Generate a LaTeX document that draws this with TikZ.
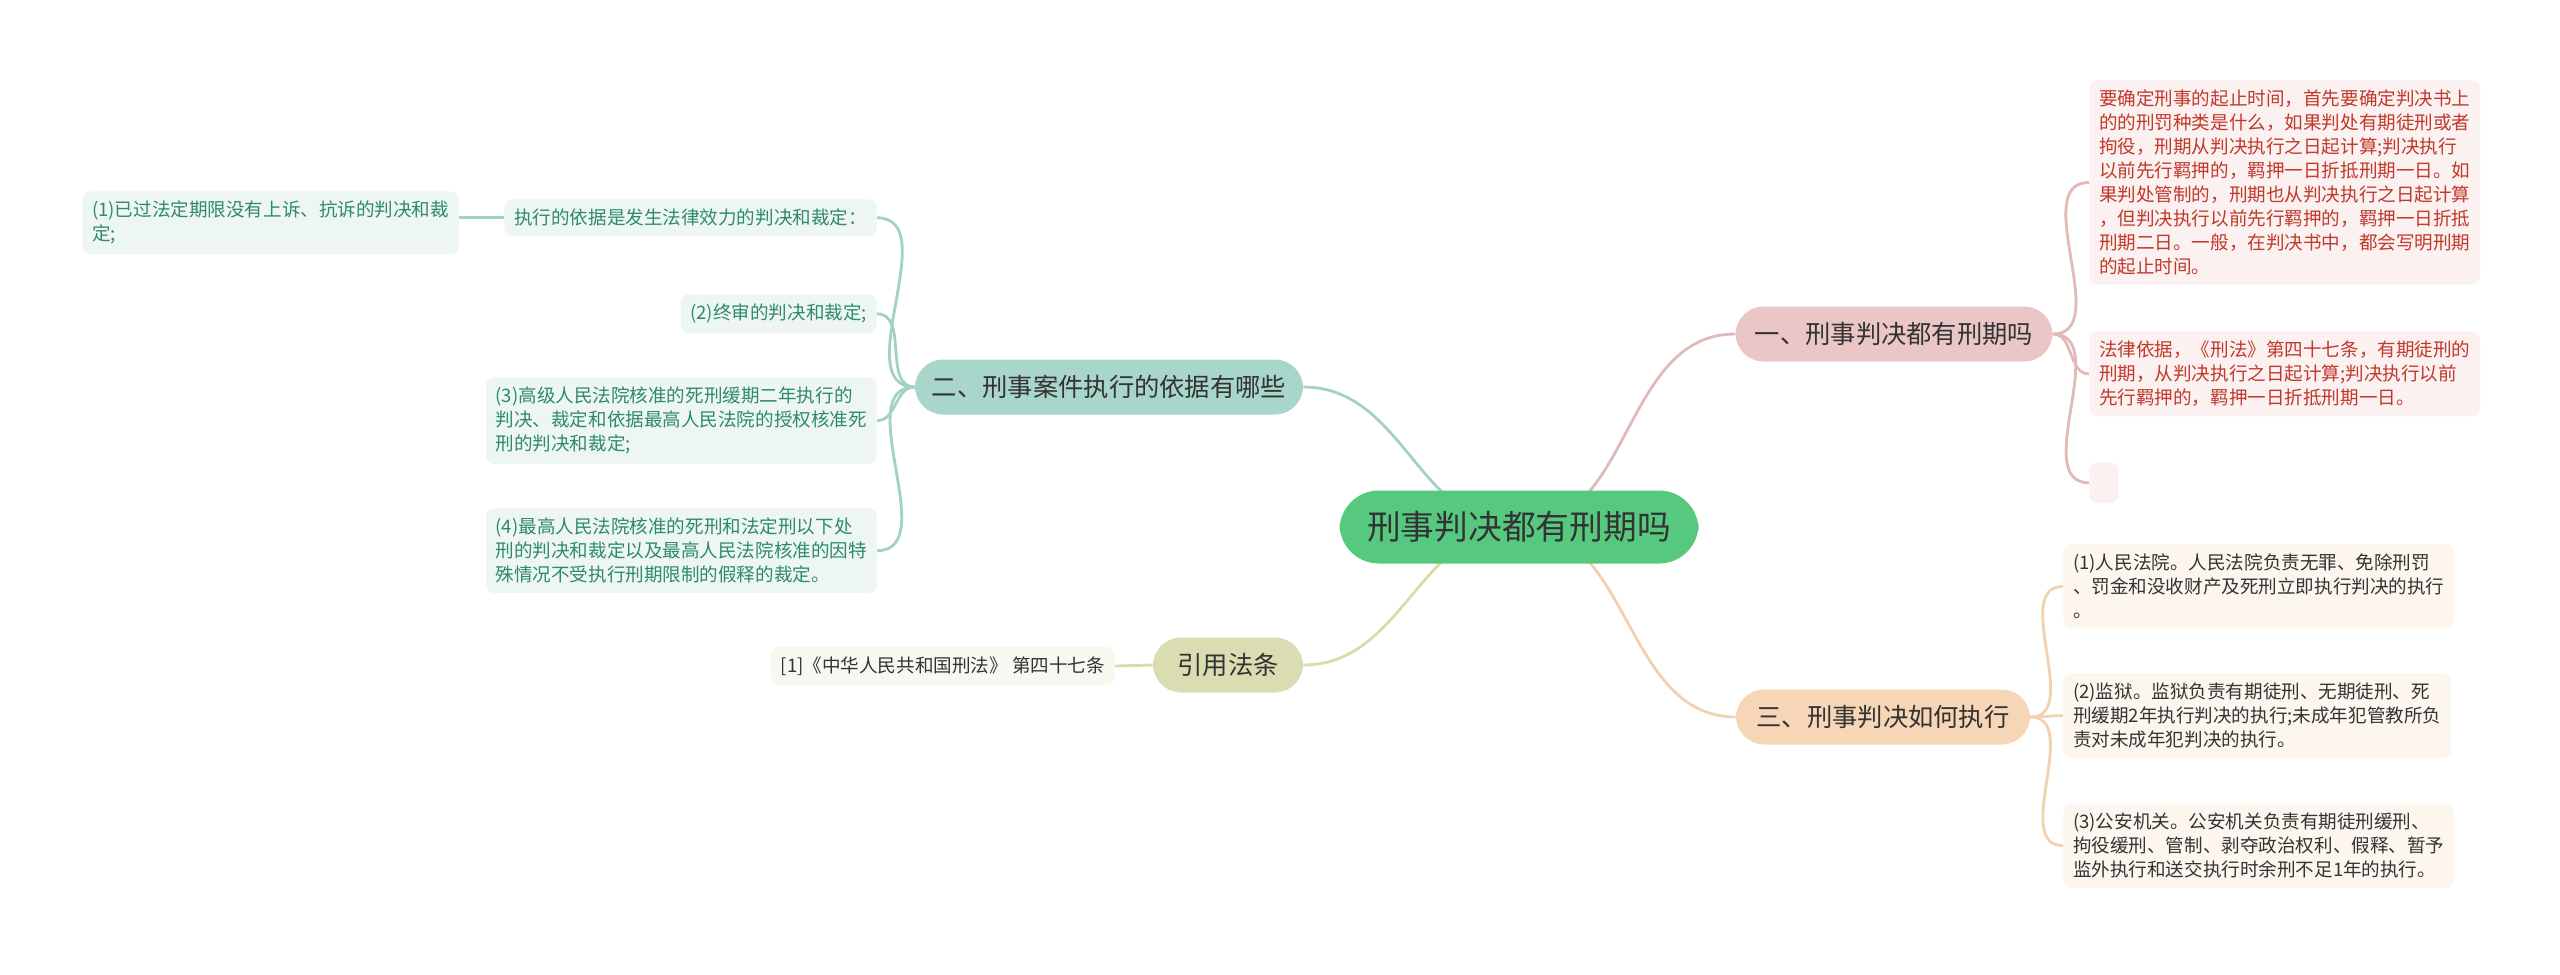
\documentclass[tikz,border=0pt]{standalone}
\usepackage{fontspec}
\setmainfont{Noto Sans CJK SC}
\usetikzlibrary{positioning, backgrounds}
\definecolor{rootfill}{HTML}{57C97F}
\definecolor{pinkfill}{HTML}{EAC6C6}
\definecolor{pinkleaf}{HTML}{FBF1F1}
\definecolor{pinkline}{HTML}{E2B9B9}
\definecolor{pinktext}{HTML}{C0392B}
\definecolor{orangefill}{HTML}{F6D6B6}
\definecolor{orangeleaf}{HTML}{FDF6EF}
\definecolor{orangeline}{HTML}{F0D2B0}
\definecolor{tealfill}{HTML}{A9D6CA}
\definecolor{tealleaf}{HTML}{EEF6F3}
\definecolor{tealline}{HTML}{A3D2C4}
\definecolor{tealtext}{HTML}{2E8A6C}
\definecolor{olivefill}{HTML}{DADDB2}
\definecolor{oliveleaf}{HTML}{F7F8EF}
\definecolor{oliveline}{HTML}{D8DCA8}
\definecolor{darktext}{HTML}{333333}
\tikzset{
  rootbox/.style={rectangle, rounded corners=28, fill=rootfill, text=darktext,
    font=\fontsize{24}{30}\selectfont, minimum width=359*0.025cm, minimum height=73*0.025cm},
  branchbox/.style={rectangle, rounded corners=20, text=darktext,
    font=\fontsize{18}{22}\selectfont, minimum height=55*0.025cm},
  leafbox/.style={rectangle, rounded corners=6, align=left, inner sep=7pt,
    font=\fontsize{13.2}{17}\selectfont},
  link/.style={line width=2pt}
}
\begin{document}
\begin{tikzpicture}[x=0.025cm, y=-0.025cm]
  \useasboundingbox (0,0) rectangle (2560,974);
  % Root and branches
  \node (root) [rootbox] at (1519,527) {刑事判决都有刑期吗};
  \node (penalty) [branchbox, fill=pinkfill, minimum width=317*0.025cm] at (1894,334) {一、刑事判决都有刑期吗};
  \node (execute) [branchbox, fill=orangefill, minimum width=294*0.025cm] at (1883,717) {三、刑事判决如何执行};
  \node (basis) [branchbox, fill=tealfill, minimum width=388*0.025cm] at (1109,387) {二、刑事案件执行的依据有哪些};
  \node (cite) [branchbox, fill=olivefill, minimum width=150*0.025cm] at (1228,665) {引用法条};
  % Leaves of branch one
  \node (term) [leafbox, fill=pinkleaf, text=pinktext, anchor=north west] at (2089,80) {要确定刑事的起止时间，首先要确定判决书上\\的的刑罚种类是什么，如果判处有期徒刑或者\\拘役，刑期从判决执行之日起计算;判决执行\\以前先行羁押的，羁押一日折抵刑期一日。如\\果判处管制的，刑期也从判决执行之日起计算\\，但判决执行以前先行羁押的，羁押一日折抵\\刑期二日。一般，在判决书中，都会写明刑期\\的起止时间。};
  \node (law) [leafbox, fill=pinkleaf, text=pinktext, anchor=north west] at (2089,331) {法律依据，《刑法》第四十七条，有期徒刑的\\刑期，从判决执行之日起计算;判决执行以前\\先行羁押的，羁押一日折抵刑期一日。};
  \node (blank) [rectangle, rounded corners=6, fill=pinkleaf, minimum width=29*0.025cm, minimum height=41*0.025cm, anchor=north west] at (2089,462) {};
  % Leaves of branch three
  \node (court) [leafbox, fill=orangeleaf, text=darktext, anchor=north west] at (2063,544) {(1)人民法院。人民法院负责无罪、免除刑罚\\、罚金和没收财产及死刑立即执行判决的执行\\。};
  \node (prison) [leafbox, fill=orangeleaf, text=darktext, anchor=north west] at (2063,673) {(2)监狱。监狱负责有期徒刑、无期徒刑、死\\刑缓期2年执行判决的执行;未成年犯管教所负\\责对未成年犯判决的执行。};
  \node (police) [leafbox, fill=orangeleaf, text=darktext, anchor=north west] at (2063,803) {(3)公安机关。公安机关负责有期徒刑缓刑、\\拘役缓刑、管制、剥夺政治权利、假释、暂予\\监外执行和送交执行时余刑不足1年的执行。};
  % Leaves of branch two
  \node (effect) [leafbox, fill=tealleaf, text=tealtext, anchor=north east] at (877,199) {执行的依据是发生法律效力的判决和裁定：};
  \node (expired) [leafbox, fill=tealleaf, text=tealtext, anchor=north west] at (82,191) {(1)已过法定期限没有上诉、抗诉的判决和裁\\定;};
  \node (final) [leafbox, fill=tealleaf, text=tealtext, anchor=north east] at (877,294) {(2)终审的判决和裁定;};
  \node (reprieve) [leafbox, fill=tealleaf, text=tealtext, anchor=north east] at (877,377) {(3)高级人民法院核准的死刑缓期二年执行的\\判决、裁定和依据最高人民法院的授权核准死\\刑的判决和裁定;};
  \node (supreme) [leafbox, fill=tealleaf, text=tealtext, anchor=north east] at (877,508) {(4)最高人民法院核准的死刑和法定刑以下处\\刑的判决和裁定以及最高人民法院核准的因特\\殊情况不受执行刑期限制的假释的裁定。};
  % Leaf of branch four
  \node (code) [leafbox, fill=oliveleaf, text=darktext, anchor=east] at (1115,666) {[1]《中华人民共和国刑法》 第四十七条};
  % Connectors
  \begin{scope}[on background layer]
    \draw [link, pinkline] (root.center) to [out=0,in=180] (penalty.west);
    \draw [link, orangeline] (root.center) to [out=0,in=180] (execute.west);
    \draw [link, tealline] (root.center) to [out=180,in=0] (basis.east);
    \draw [link, oliveline] (root.center) to [out=180,in=0] (cite.east);
    \foreach \leaf in {term, law, blank}
      \draw [link, pinkline] (penalty.east) to [out=0,in=180] (\leaf.west);
    \foreach \leaf in {court, prison, police}
      \draw [link, orangeline] (execute.east) to [out=0,in=180] (\leaf.west);
    \foreach \leaf in {effect, final, reprieve, supreme}
      \draw [link, tealline] (basis.west) to [out=180,in=0] (\leaf.east);
    \draw [link, tealline] (effect.west) -- (expired.east |- effect.west);
    \draw [link, oliveline] (cite.west) -- (code.east);
  \end{scope}
\end{tikzpicture}
\end{document}
